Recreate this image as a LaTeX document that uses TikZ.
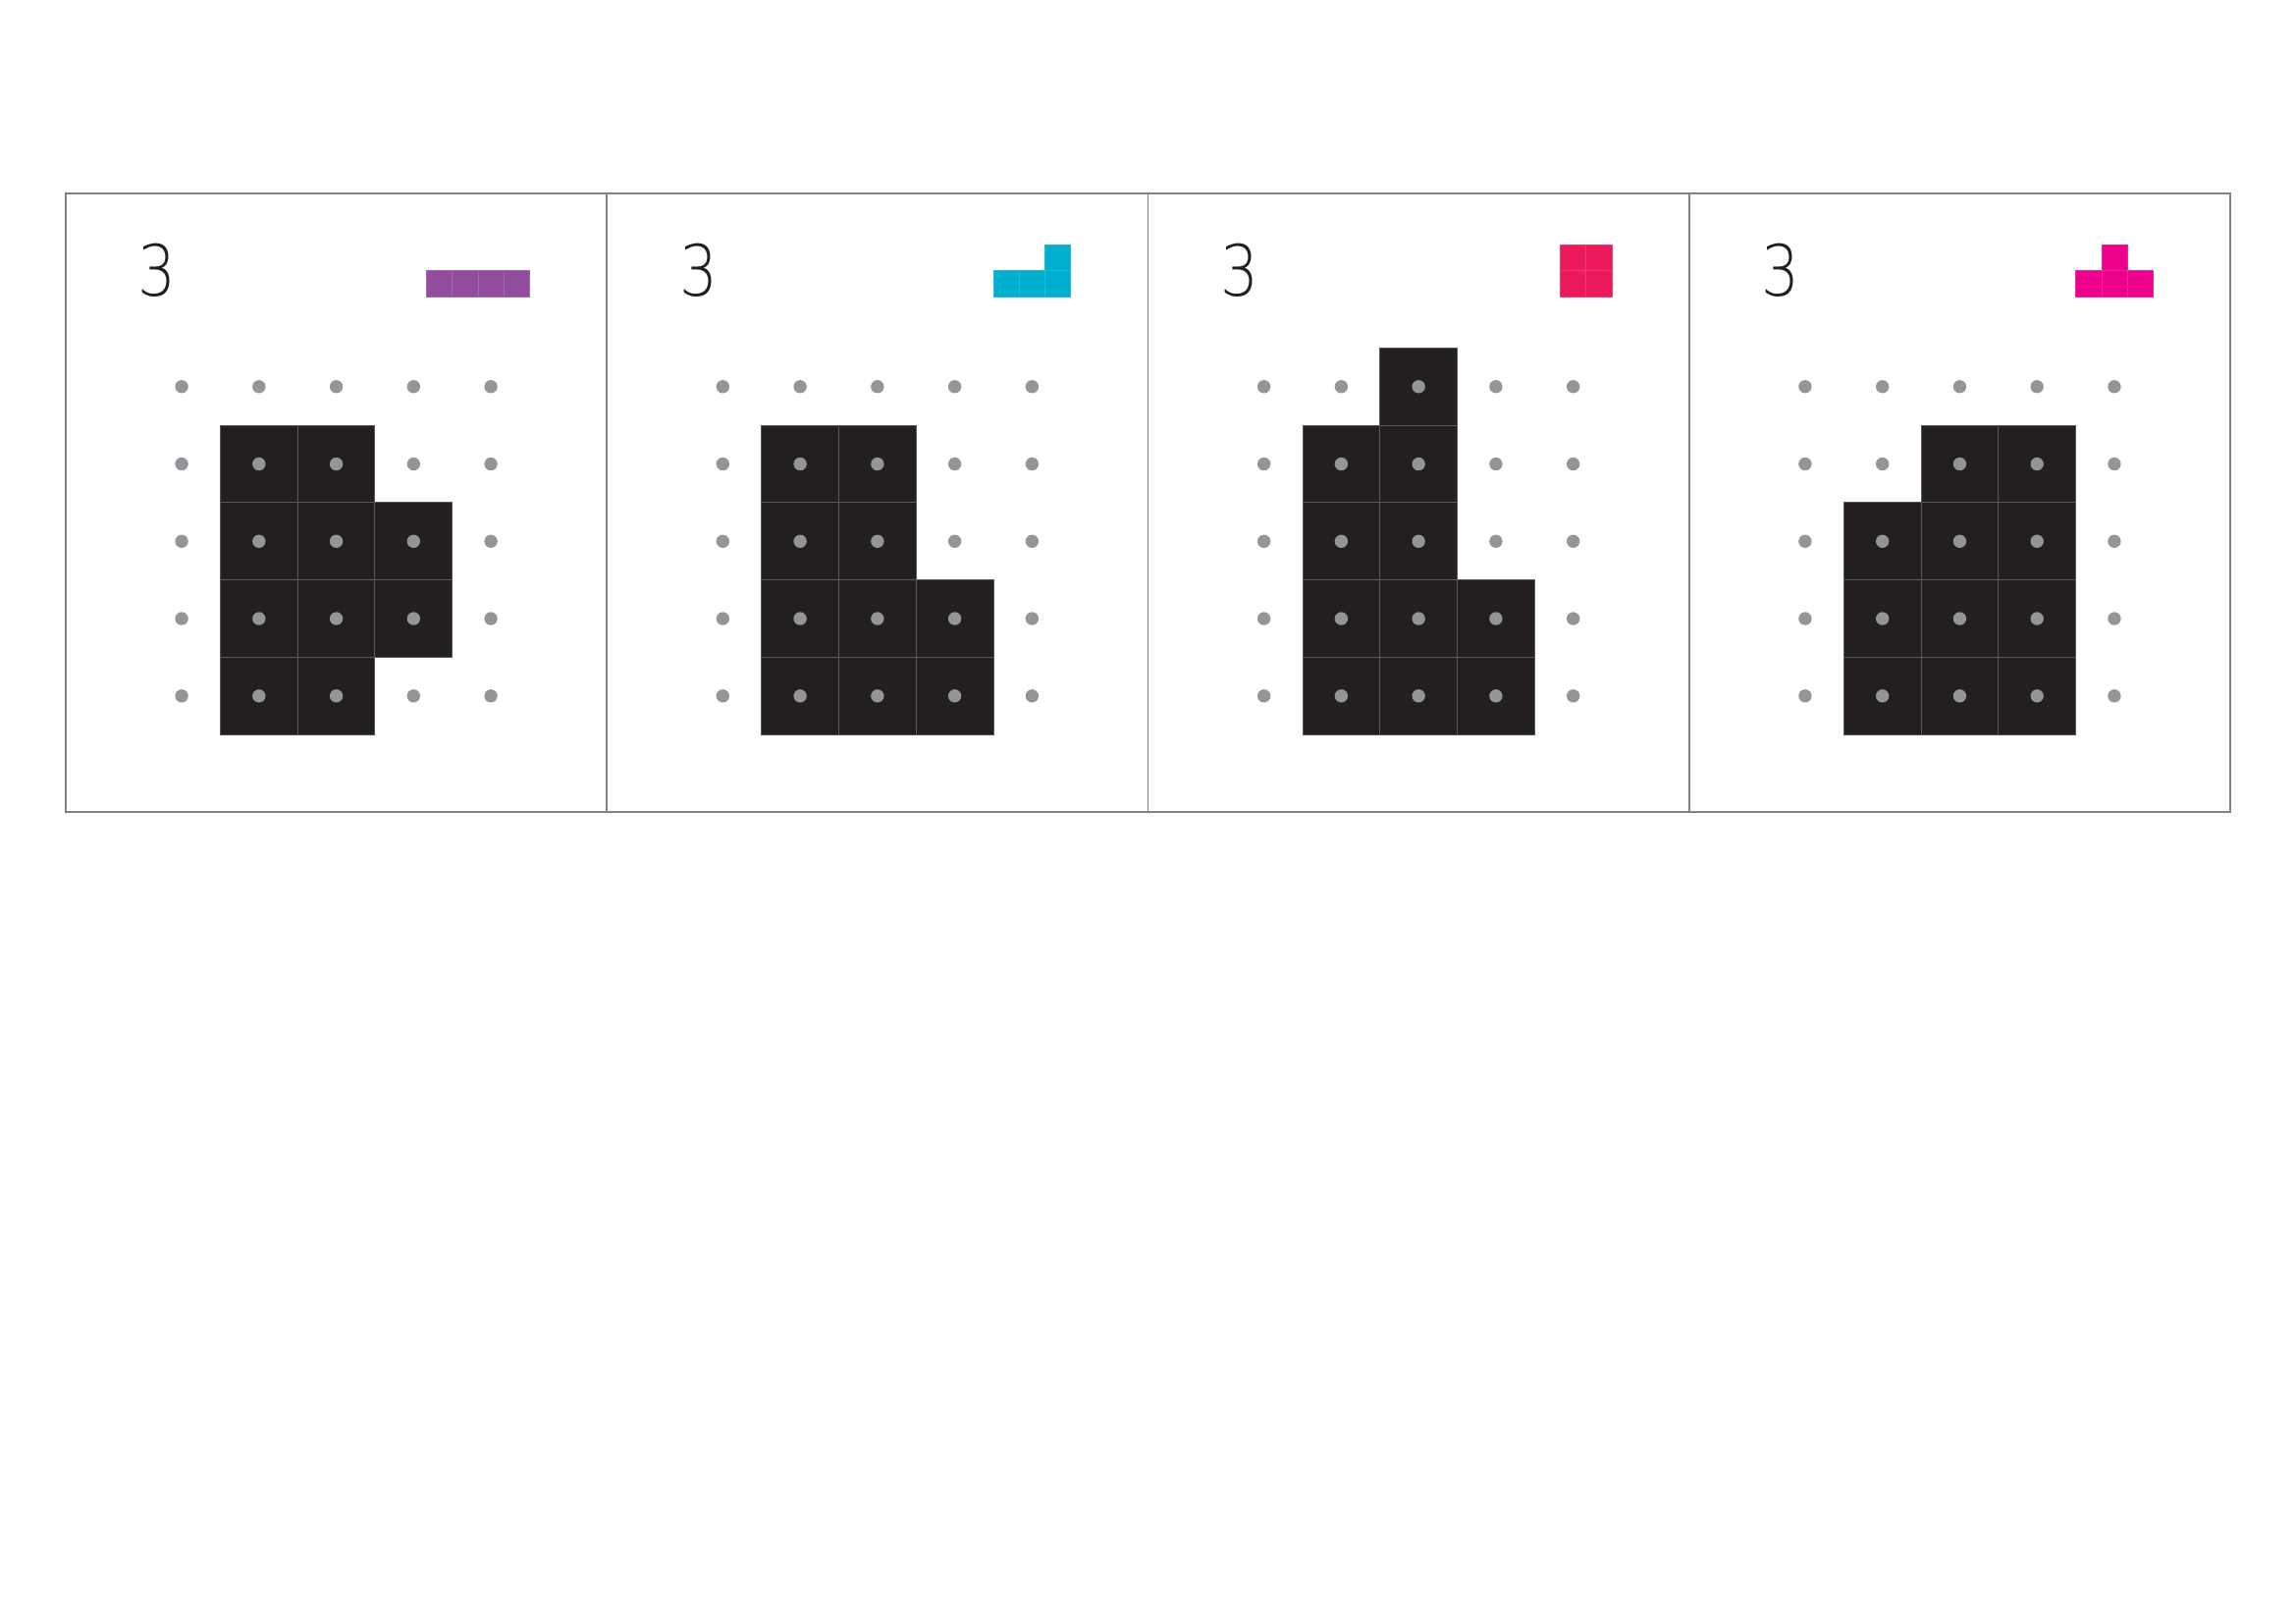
\documentclass[tikz,border=0pt]{standalone}
\usepackage{fontspec}
\newfontfamily\numfont{DejaVu Sans ExtraLight}
\usepackage{xcolor}
\usepackage{tikz}
\usetikzlibrary{positioning}

\definecolor{cellfill}{HTML}{231F20}
\definecolor{cellline}{HTML}{58595B}
\definecolor{dotgray}{HTML}{939598}
\definecolor{framegray}{HTML}{808285}
\definecolor{tilepurple}{HTML}{924C9E}
\definecolor{tilecyan}{HTML}{00AECF}
\definecolor{tilered}{HTML}{ED1A5B}
\definecolor{tilemagenta}{HTML}{EC008C}

\tikzset{
  cell/.style={fill=cellfill, draw=cellline, line width=0.12mm},
  griddot/.style={fill=dotgray},
  tile/.style={fill=#1, draw=#1!85!white, line width=0.08mm},
  numtext/.style={font=\numfont\fontsize{26}{26}\selectfont, text=cellfill},
  frameline/.style={draw=framegray, line width=0.25mm},
}

\begin{document}
\begin{tikzpicture}[x=1cm, y=1cm, every node/.style={inner sep=0pt}]
    \useasboundingbox (0,0) rectangle (29.7,-21);
    % Outer frame and dividers
    \draw[frameline] (0.85,-2.5) rectangle (28.85,-10.5);
    \foreach \i in {1,2,3} {
        \draw[frameline] (0.85+7*\i,-2.5) -- (0.85+7*\i,-10.5);
    }
    % Panel 1: dark cells and purple tiles
    \begin{scope}[xshift=0.85cm]
        \foreach \c/\r in {1/1,2/1,1/2,2/2,3/2,1/3,2/3,3/3,1/4,2/4} {
            \draw[cell] (1+\c,-4.5-\r) rectangle ++(1,-1);
        }
        \foreach \i/\j in {0/0,1/0,2/0,3/0} {
            \draw[tile=tilepurple] (4.6667+\i/3,-3.8333+\j/3) rectangle ++(1/3,1/3);
        }
    \end{scope}
    % Panel 2: dark cells and cyan tiles
    \begin{scope}[xshift=7.85cm]
        \foreach \c/\r in {1/1,2/1,1/2,2/2,1/3,2/3,3/3,1/4,2/4,3/4} {
            \draw[cell] (1+\c,-4.5-\r) rectangle ++(1,-1);
        }
        \foreach \i/\j in {0/0,1/0,2/0,2/1} {
            \draw[tile=tilecyan] (5+\i/3,-3.8333+\j/3) rectangle ++(1/3,1/3);
        }
    \end{scope}
    % Panel 3: dark cells and red tiles
    \begin{scope}[xshift=14.85cm]
        \foreach \c/\r in {2/0,1/1,2/1,1/2,2/2,1/3,2/3,3/3,1/4,2/4,3/4} {
            \draw[cell] (1+\c,-4.5-\r) rectangle ++(1,-1);
        }
        \foreach \i/\j in {0/0,1/0,0/1,1/1} {
            \draw[tile=tilered] (5.3333+\i/3,-3.8333+\j/3) rectangle ++(1/3,1/3);
        }
    \end{scope}
    % Panel 4: dark cells and magenta tiles
    \begin{scope}[xshift=21.85cm]
        \foreach \c/\r in {2/1,3/1,1/2,2/2,3/2,1/3,2/3,3/3,1/4,2/4,3/4} {
            \draw[cell] (1+\c,-4.5-\r) rectangle ++(1,-1);
        }
        \foreach \i/\j in {0/0,1/0,2/0,1/1} {
            \draw[tile=tilemagenta] (5+\i/3,-3.8333+\j/3) rectangle ++(1/3,1/3);
        }
    \end{scope}
    % Dots (5x5) and number in every panel
    \foreach \p in {0,...,3} {
        \foreach \c in {0,...,4} {
            \foreach \r in {0,...,4} {
                \fill[griddot] (0.85+7*\p+1.5+\c,-5-\r) circle (0.085);
            }
        }
        \node[numtext, anchor=base west] (num\p) at (0.85+7*\p+0.93,-3.83) {\scalebox{0.85}[1]{3}};
    }
\end{tikzpicture}
\end{document}
